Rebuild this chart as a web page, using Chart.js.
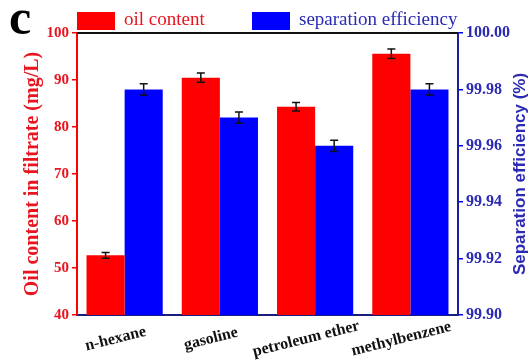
<!DOCTYPE html>
<html>
<head>
<meta charset="utf-8">
<script src="https://cdn.jsdelivr.net/npm/chart.js@4.4.0/dist/chart.umd.min.js"></script>
<style>
  html, body { margin: 0; padding: 0; background: #fff; }
  #wrap { width: 529px; height: 361px; position: relative; }
</style>
</head>
<body>
<div id="wrap"><canvas id="chart" width="529" height="361"></canvas></div>
<script>
// data
const categories = ['n-hexane', 'gasoline', 'petroleum ether', 'methylbenzene'];
const oilContent = [52.7, 90.5, 84.3, 95.6];
const oilErr = [0.6, 1.0, 0.9, 1.0];
const sepEfficiency = [99.98, 99.97, 99.96, 99.98];
const sepErr = [0.002, 0.002, 0.002, 0.002];

const SERIF = '"Liberation Serif", "Times New Roman", serif';
const SANS = '"Liberation Sans", Arial, sans-serif';
const RED = '#ff0000';
const BLUE = '#0000ff';
const RED_TEXT = '#e8141e';
const BLUE_TEXT = '#2a2ab4';

// error bars, x labels, legend, panel letter, borders
const extras = {
    id: 'extras',
    afterDatasetsDraw(chart) {
        const ctx = chart.ctx;
        const errs = [oilErr, sepErr];
        ctx.save();
        ctx.strokeStyle = '#111';
        ctx.lineWidth = 1.5;
        chart.data.datasets.forEach((ds, di) => {
            const meta = chart.getDatasetMeta(di);
            const scale = chart.scales[ds.yAxisID];
            meta.data.forEach((bar, i) => {
                const v = ds.data[i];
                const yTop = scale.getPixelForValue(v + errs[di][i]);
                const yBot = scale.getPixelForValue(v - errs[di][i]);
                ctx.beginPath();
                ctx.moveTo(bar.x, yTop); ctx.lineTo(bar.x, yBot);
                ctx.moveTo(bar.x - 4, yTop); ctx.lineTo(bar.x + 4, yTop);
                ctx.moveTo(bar.x - 4, yBot); ctx.lineTo(bar.x + 4, yBot);
                ctx.stroke();
            });
        });
        ctx.restore();
    },
    afterDraw(chart) {
        const ctx = chart.ctx;
        const area = chart.chartArea;
        const xs = chart.scales.x;
        ctx.save();

        // top frame line
        ctx.strokeStyle = '#111';
        ctx.lineWidth = 2;
        ctx.beginPath();
        ctx.moveTo(area.left, area.top);
        ctx.lineTo(area.right, area.top);
        ctx.stroke();

        // rotated category labels
        ctx.fillStyle = '#111';
        ctx.font = 'bold 16px ' + SERIF;
        ctx.textAlign = 'center';
        ctx.textBaseline = 'middle';
        categories.forEach((c, i) => {
            const x = xs.getPixelForValue(i) - 9;
            ctx.save();
            ctx.translate(x, area.bottom + 24);
            ctx.rotate(-14 * Math.PI / 180);
            ctx.fillText(c, 0, 0);
            ctx.restore();
        });

        // right axis title, reading bottom to top
        ctx.save();
        ctx.translate(520, (area.top + area.bottom) / 2);
        ctx.rotate(-Math.PI / 2);
        ctx.fillStyle = BLUE_TEXT;
        ctx.font = 'bold 17px ' + SANS;
        ctx.textAlign = 'center';
        ctx.textBaseline = 'middle';
        ctx.fillText('Separation efficiency (%)', 0, 0);
        ctx.restore();

        // legend
        const legend = [
            { x: 77, text: chart.data.datasets[0].label, fill: RED, color: RED_TEXT },
            { x: 252, text: chart.data.datasets[1].label, fill: BLUE, color: BLUE_TEXT }
        ];
        ctx.font = '19px ' + SERIF;
        ctx.textAlign = 'left';
        ctx.textBaseline = 'middle';
        legend.forEach(l => {
            ctx.fillStyle = l.fill;
            ctx.fillRect(l.x, 12, 38, 18);
            ctx.fillStyle = l.color;
            ctx.fillText(l.text, l.x + 47, 20);
        });

        // panel letter
        ctx.fillStyle = '#000';
        ctx.font = 'bold 50px ' + SERIF;
        ctx.textBaseline = 'alphabetic';
        ctx.fillText('c', 9, 34);
        ctx.restore();
    }
};

new Chart(document.getElementById('chart'), {
    type: 'bar',
    data: {
        labels: categories,
        datasets: [
            {
                label: 'oil content',
                data: oilContent,
                backgroundColor: RED,
                yAxisID: 'y',
                categoryPercentage: 0.8,
                barPercentage: 1.0
            },
            {
                label: 'separation efficiency',
                data: sepEfficiency,
                backgroundColor: BLUE,
                yAxisID: 'y2',
                categoryPercentage: 0.8,
                barPercentage: 1.0
            }
        ]
    },
    options: {
        responsive: false,
        animation: false,
        layout: { padding: { top: 33, left: 0, right: 0, bottom: 0 } },
        plugins: {
            legend: { display: false },
            tooltip: { enabled: false }
        },
        scales: {
            x: {
                grid: { display: false },
                border: { display: true, color: '#1c1c7a', width: 2 },
                ticks: { display: false },
                afterFit: s => { s.height = 46; }
            },
            y: {
                position: 'left',
                min: 40,
                max: 100,
                ticks: {
                    stepSize: 10,
                    color: RED_TEXT,
                    padding: 3,
                    font: { family: SERIF, size: 15, weight: 'bold' }
                },
                grid: { drawOnChartArea: false, color: RED, tickLength: 5, lineWidth: 1.5 },
                border: { color: RED, width: 2 },
                title: {
                    display: true,
                    text: 'Oil content in filtrate (mg/L)',
                    color: RED_TEXT,
                    padding: { top: 21, bottom: 0 },
                    font: { family: SERIF, size: 20, weight: 'bold' }
                },
                afterFit: s => { s.width = 77; }
            },
            y2: {
                position: 'right',
                min: 99.9,
                max: 100.0,
                ticks: {
                    stepSize: 0.02,
                    color: BLUE_TEXT,
                    padding: 3,
                    font: { family: SERIF, size: 16, weight: 'bold' },
                    callback: v => Number(v).toFixed(2)
                },
                grid: { drawOnChartArea: false, color: BLUE, tickLength: 5, lineWidth: 1.5 },
                border: { color: '#1c1ca0', width: 2 },
                afterFit: s => { s.width = 71; }
            }
        }
    },
    plugins: [extras]
});
</script>
</body>
</html>
